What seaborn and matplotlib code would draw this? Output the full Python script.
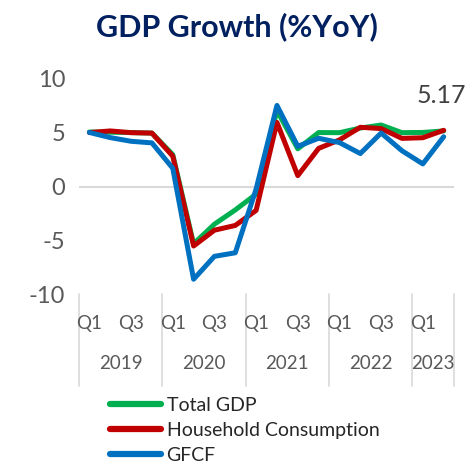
import numpy as np
import pandas as pd
import seaborn as sns
import matplotlib.pyplot as plt
import matplotlib.transforms as mtransforms
from matplotlib.lines import Line2D

# data ---------------------------------------------------------------
quarters = ['2019Q1', '2019Q2', '2019Q3', '2019Q4',
            '2020Q1', '2020Q2', '2020Q3', '2020Q4',
            '2021Q1', '2021Q2', '2021Q3', '2021Q4',
            '2022Q1', '2022Q2', '2022Q3', '2022Q4',
            '2023Q1', '2023Q2']
total_gdp = [5.07, 5.05, 5.02, 4.97, 2.97, -5.32, -3.49, -2.17, -0.70,
             7.07, 3.51, 5.02, 5.01, 5.44, 5.72, 5.01, 5.03, 5.17]
household = [5.02, 5.17, 5.01, 4.97, 2.83, -5.52, -4.05, -3.61, -2.21,
             5.96, 1.02, 3.55, 4.34, 5.51, 5.39, 4.48, 4.54, 5.23]
gfcf = [5.03, 4.55, 4.21, 4.06, 1.70, -8.61, -6.48, -6.15, -0.23,
        7.54, 3.74, 4.49, 4.09, 3.07, 4.98, 3.33, 2.11, 4.63]
series_names = ['Total GDP', 'Household Consumption', 'GFCF']
colors = {'Total GDP': '#00B050', 'Household Consumption': '#C00000', 'GFCF': '#0070C0'}
q_labels = ['Q1', 'Q3'] * 4 + ['Q1']
years = ['2019', '2020', '2021', '2022', '2023']

# long frame for seaborn
df = pd.DataFrame({'idx': np.arange(len(quarters)),
                   'Total GDP': total_gdp,
                   'Household Consumption': household,
                   'GFCF': gfcf})
long_df = df.melt(id_vars='idx', var_name='series', value_name='yoy')

sns.set_style('white')
plt.rcParams['font.family'] = ['Lato', 'DejaVu Sans']
plt.rcParams['axes.unicode_minus'] = False
gray = '#595959'

fig = plt.figure(figsize=(4.73, 4.70), dpi=100)
ax = fig.add_axes([0.167, 0.374, 0.793, 0.458])

ax.axhline(0, color='#D9D9D9', lw=1.5, zorder=0)
sns.lineplot(data=long_df, x='idx', y='yoy', hue='series', hue_order=series_names,
             palette=colors, linewidth=3.6, ax=ax, legend=False, sort=False)

ax.set_xlim(-0.5, len(quarters) - 0.5)
ax.set_ylim(-10, 10)
ax.set_yticks([-10, -5, 0, 5, 10])
ax.tick_params(axis='y', labelsize=17, labelcolor=gray, pad=10, length=0)
ax.set_xticks([])
ax.set_xlabel('')
ax.set_ylabel('')
for s in ax.spines.values():
    s.set_visible(False)

# quarter / year labels and separators
trans = mtransforms.blended_transform_factory(ax.transData, ax.transAxes)
for i, lab in zip(range(0, len(quarters), 2), q_labels):
    ax.text(i, -0.135, lab, transform=trans, ha='center', va='center',
            fontsize=13.5, color=gray)
year_idx = [quarters.index(y + 'Q1') for y in years]
year_end = year_idx[1:] + [len(quarters)]
for y, a, b in zip(years, year_idx, year_end):
    ax.text((a + b - 1) / 2, -0.32, y, transform=trans, ha='center', va='center',
            fontsize=13.5, color=gray)
for b in [year_idx[0]] + year_end:
    ax.plot([b - 0.5, b - 0.5], [0, -0.425], transform=trans, color='#D9D9D9',
            lw=1.2, clip_on=False)

# last value label
ax.text(len(quarters) - 1 - 0.1, total_gdp[-1] + 3.3, f'{total_gdp[-1]:.2f}', ha='center',
        va='center', fontsize=18, color='#404040')

fig.text(0.5, 0.943, 'GDP Growth (%YoY)', ha='center', va='center', fontsize=22,
         fontweight='bold', color='#002060')

handles = [Line2D([], [], color=colors[n], lw=4.5, solid_capstyle='round') for n in series_names]
fig.legend(handles, series_names, loc='upper left', bbox_to_anchor=(0.233, 0.155),
           frameon=False, fontsize=14, handlelength=2.6, handletextpad=0.3,
           labelspacing=0.4, borderaxespad=0, borderpad=0)

fig.savefig('out.png', dpi=100)
